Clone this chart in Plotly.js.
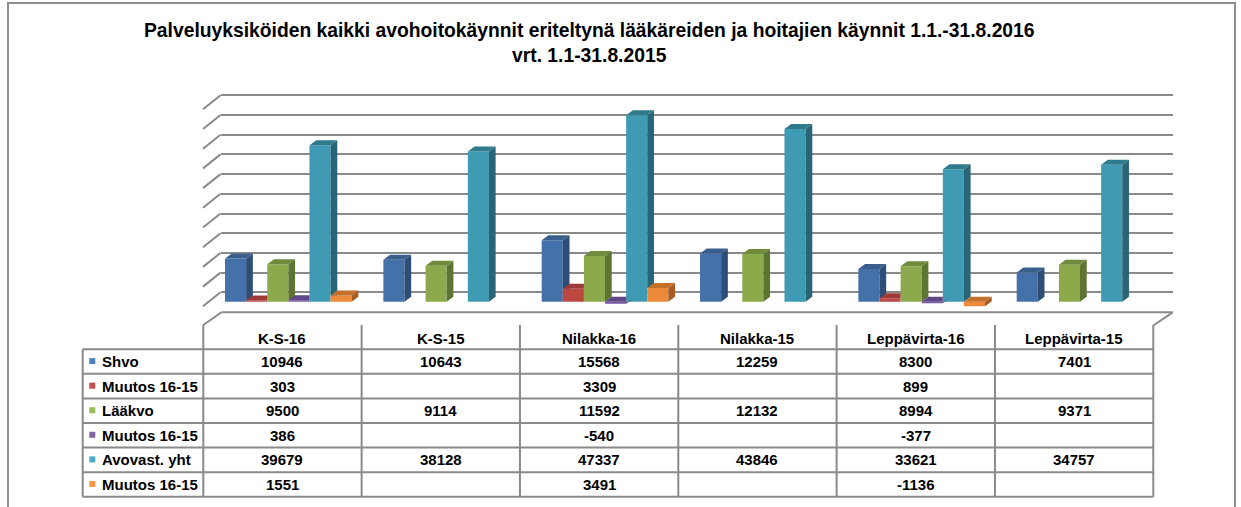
<!DOCTYPE html>
<html>
<head>
<meta charset="utf-8">
<script src="https://cdn.plot.ly/plotly-3.0.1.min.js"></script>
<style>
html,body{margin:0;padding:0;background:#fff;}
#chart{width:1241px;height:507px;}
</style>
</head>
<body>
<div id="chart"></div>
<script>
// ---------- DATA ----------
const categories = ['K-S-16', 'K-S-15', 'Nilakka-16', 'Nilakka-15', 'Leppävirta-16', 'Leppävirta-15'];
const seriesNames = ['Shvo', 'Muutos 16-15', 'Lääkvo', 'Muutos 16-15', 'Avovast. yht', 'Muutos 16-15'];
const shvo = [10946, 10643, 15568, 12259, 8300, 7401];
const muutosShvo = [303, null, 3309, null, 899, null];
const laakvo = [9500, 9114, 11592, 12132, 8994, 9371];
const muutosLaakvo = [386, null, -540, null, -377, null];
const avovast = [39679, 38128, 47337, 43846, 33621, 34757];
const muutosAvovast = [1551, null, 3491, null, -1136, null];
const gridTicks = [0, 5000, 10000, 15000, 20000, 25000, 30000, 35000, 40000, 45000, 50000];
const titleLine1 = 'Palveluyksiköiden kaikki avohoitokäynnit eriteltynä lääkäreiden ja hoitajien käynnit 1.1.-31.8.2016';
const titleLine2 = 'vrt. 1.1-31.8.2015';

// ---------- STYLE / GEOMETRY ----------
const W = 1241, H = 507;
const px = x => x / W;
const py = y => 1 - y / H;
const FONT = 'Liberation Sans, Arial, sans-serif';
const seriesValues = [shvo, muutosShvo, laakvo, muutosLaakvo, avovast, muutosAvovast];
const frontColors = ['#4471A9', '#BC4642', '#8CAA4B', '#7559A0', '#3F9AB3', '#EC8A3A'];
const sideColors  = ['#2E4E77', '#86302D', '#5E7432', '#4F3B6C', '#286576', '#A65C22'];
const capColors   = ['#3A5F8D', '#9D3A37', '#718B3C', '#5F4885', '#307A8E', '#C46F2A'];
const keyColors   = ['#4F81BD', '#C0504D', '#9BBB59', '#8064A2', '#4BACC6', '#F79646'];
const LINE = '#8a8a8a';

// bar plot area (front plane)
const barX0 = 209.2, barX1 = 1159.2;             // px for range [-0.5, 5.5]
const zeroPx = 301.7, pxPerUnit = 3.94 / 1000;   // y scale
const yMin = -3000, yMax = 50000;
const barYbot = zeroPx - yMin * pxPerUnit, barYtop = zeroPx - yMax * pxPerUnit;
const catPx = (barX1 - barX0) / 6;
const nS = seriesValues.length, groupW = 0.8, slotW = groupW / nS;
const dx = 6.7 / catPx, dy = 5 / pxPerUnit;       // 3D depth offset in data units

// back wall grid
const gridX0 = 220.5, gridX1 = 1172.7, gridZero = 292.3, gridPxPerUnit = 197 / 50000;
const gMin = -500, gMax = 50500;
const gridYbot = gridZero - gMin * gridPxPerUnit, gridYtop = gridZero - gMax * gridPxPerUnit;

// table
const tX0 = 203.3, colW = 158.33, legX0 = 82.7, headTop = 325, rowTop = 349.3, rowH = 24.57;

// ---------- TRACES ----------
const idx = categories.map((c, i) => i);
const traces = [];
traces.push({type: 'scatter', x: [0], y: [0], mode: 'markers', marker: {opacity: 0}, hoverinfo: 'skip', showlegend: false, xaxis: 'x', yaxis: 'y'});
seriesValues.forEach((vals, j) => {
  traces.push({
    type: 'bar', x: idx, y: vals, name: seriesNames[j], xaxis: 'x2', yaxis: 'y2',
    marker: {color: frontColors[j], line: {width: 0}}, showlegend: false, hoverinfo: 'y'
  });
});

function polyToXY(polys) {
  const xs = [], ys = [];
  polys.forEach(p => { p.forEach(pt => { xs.push(pt[0]); ys.push(pt[1]); }); xs.push(null); ys.push(null); });
  return {xs, ys};
}
function sidePolys(xr, bot, top, next) {
  if (next === null || next === undefined) {
    return [[[xr, bot], [xr, top], [xr + dx, top + dy], [xr + dx, bot + dy]]];
  }
  const nb = Math.min(0, next), nt = Math.max(0, next);
  const N = 20, out = [];
  const lowA = [], upA = [], lowB = [], upB = [];
  let areaA = 0, areaB = 0;
  for (let k = 0; k <= N; k++) {
    const t = k / N, X = xr + t * dx, lo = bot + t * dy, up = top + t * dy;
    const uA = Math.max(lo, Math.min(up, nb));
    const lB = Math.min(up, Math.max(lo, nt));
    lowA.push([X, lo]); upA.push([X, uA]); areaA += uA - lo;
    lowB.push([X, lB]); upB.push([X, up]); areaB += up - lB;
  }
  if (areaA > 1) out.push(lowA.concat(upA.reverse()));
  if (areaB > 1) out.push(lowB.concat(upB.reverse()));
  return out;
}
function capPoly(xl, xr, top, next) {
  if (next !== null && next !== undefined && Math.max(0, next) > top) {
    return [[xl, top], [xr, top], [xr, top + dy], [xl + dx, top + dy]];
  }
  return [[xl, top], [xr, top], [xr + dx, top + dy], [xl + dx, top + dy]];
}
seriesValues.forEach((vals, j) => {
  const sides = [], caps = [];
  vals.forEach((v, i) => {
    if (v === null) return;
    const xl = i - groupW / 2 + j * slotW, xr = xl + slotW;
    const top = Math.max(0, v), bot = Math.min(0, v);
    const next = j + 1 < nS ? seriesValues[j + 1][i] : null;
    sidePolys(xr, bot, top, next).forEach(p => sides.push(p));
    caps.push(capPoly(xl, xr, top, next));
  });
  [[sides, sideColors[j]], [caps, capColors[j]]].forEach(([polys, col]) => {
    const {xs, ys} = polyToXY(polys);
    traces.push({type: 'scatter', x: xs, y: ys, mode: 'lines', fill: 'toself', fillcolor: col,
      line: {width: 0, color: col}, hoverinfo: 'skip', showlegend: false, xaxis: 'x2', yaxis: 'y2'});
  });
});

// ---------- SHAPES ----------
const shapes = [];
const seg = (x0, y0, x1, y1, w) => shapes.push({type: 'line', xref: 'paper', yref: 'paper',
  x0: px(x0), y0: py(y0), x1: px(x1), y1: py(y1), line: {color: LINE, width: w || 2}, layer: 'below'});
// outer frame
shapes.push({type: 'rect', xref: 'paper', yref: 'paper', x0: px(8), y0: py(3), x1: px(1235), y1: py(540),
  line: {color: '#8f8f8f', width: 2}, fillcolor: 'rgba(0,0,0,0)', layer: 'below'});
// side-wall diagonals of the gridlines
gridTicks.forEach(v => {
  const yy = gridZero - v * gridPxPerUnit;
  seg(203, yy + 14, gridX0, yy);
});
// floor front edge
seg(221.5, 312.3, gridX1, 312.3);
seg(221.5, 312.3, tX0, headTop);
seg(gridX1, 312.3, tX0 + 6 * colW, headTop + 0.5);
// data table grid
for (let k = 0; k <= categories.length; k++) seg(tX0 + k * colW, headTop, tX0 + k * colW, rowTop + 6 * rowH);
seg(legX0, rowTop, legX0, rowTop + 6 * rowH);
for (let r = 0; r <= seriesNames.length; r++) seg(legX0, rowTop + r * rowH, tX0 + 6 * colW, rowTop + r * rowH);
// legend keys
seriesNames.forEach((s, r) => {
  const yc = rowTop + r * rowH + rowH / 2 - 0.5;
  shapes.push({type: 'rect', xref: 'paper', yref: 'paper', x0: px(89.3), x1: px(95.3), y0: py(yc + 3), y1: py(yc - 3),
    line: {width: 0}, fillcolor: keyColors[r]});
});

// ---------- ANNOTATIONS ----------
const annotations = [];
const txt = (x, y, text, size, anchor) => annotations.push({xref: 'paper', yref: 'paper', x: px(x), y: py(y),
  text: '<b>' + text + '</b>', showarrow: false, xanchor: anchor || 'center', yanchor: 'middle',
  font: {family: FONT, size: size || 15, color: '#000'}});
txt(589.5, 31, titleLine1, 19.3);
txt(589.5, 55, titleLine2, 19.3);
categories.forEach((c, i) => txt(tX0 + (i + 0.5) * colW, 338.5, c));
seriesNames.forEach((s, r) => {
  const yc = rowTop + r * rowH + rowH / 2;
  txt(99.5, yc, s, 15, 'left');
  seriesValues[r].forEach((v, i) => { if (v !== null) txt(tX0 + (i + 0.5) * colW, yc, String(v)); });
});

// ---------- LAYOUT ----------
const layout = {
  width: W, height: H, margin: {l: 0, r: 0, t: 0, b: 0},
  paper_bgcolor: '#ffffff', plot_bgcolor: 'rgba(0,0,0,0)',
  showlegend: false, barmode: 'group', bargap: 0.2, bargroupgap: 0,
  xaxis: {domain: [px(gridX0), px(gridX1)], range: [0, 1], anchor: 'y', showgrid: false, zeroline: false,
    showticklabels: false, ticks: '', showline: false, fixedrange: true},
  yaxis: {domain: [py(gridYbot), py(gridYtop)], range: [gMin, gMax], anchor: 'x', tickmode: 'array', tickvals: gridTicks,
    showgrid: true, gridcolor: LINE, gridwidth: 2, zeroline: false, showticklabels: false, ticks: '', showline: false, fixedrange: true},
  xaxis2: {domain: [px(barX0), px(barX1)], range: [-0.5, 5.5], anchor: 'y2', showgrid: false, zeroline: false,
    showticklabels: false, ticks: '', showline: false, fixedrange: true},
  yaxis2: {domain: [py(barYbot), py(barYtop)], range: [yMin, yMax], anchor: 'x2', showgrid: false, zeroline: false,
    showticklabels: false, ticks: '', showline: false, fixedrange: true},
  shapes: shapes, annotations: annotations
};
Plotly.newPlot('chart', traces, layout, {displayModeBar: false, staticPlot: true});
</script>
</body>
</html>
